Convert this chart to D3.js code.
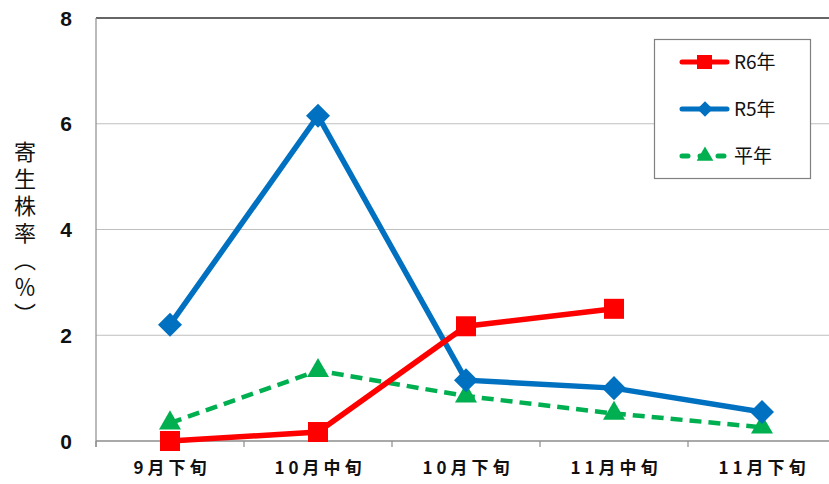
<!DOCTYPE html>
<html><head><meta charset="utf-8">
<script src="https://cdn.jsdelivr.net/npm/d3@7"></script>
<style>html,body{margin:0;padding:0;background:#fff;overflow:hidden}</style>
</head><body>
<svg id="c" width="829" height="484"></svg>
<script>
const categories = ["9月下旬","10月中旬","10月下旬","11月中旬","11月下旬"];
const r6 = [0, 0.17, 2.17, 2.5, null];
const r5 = [2.2, 6.15, 1.15, 1.0, 0.55];
const heinen = [0.34, 1.33, 0.85, 0.52, 0.26];
const yTicks = [0, 2, 4, 6, 8];
const seriesNames = ["R6年","R5年","平年"];
const yTitle = "寄生株率（％）";

const svg = d3.select("#c");
const L = 96, R = 836, T = 18, B = 441;
const x = d3.scaleBand().domain(categories).range([L, R]);
const y = d3.scaleLinear().domain([0, 8]).range([B, T]);
const cx = d => x(d) + x.bandwidth()/2;

// gridlines
svg.append("g").selectAll("line").data(yTicks.filter(t => t > 0 && t < 8)).join("line")
  .attr("x1", L).attr("x2", R).attr("y1", d => y(d)).attr("y2", d => y(d))
  .attr("stroke", "#bfbfbf").attr("stroke-width", 1.2);
// top border
svg.append("line").attr("x1", L).attr("x2", R).attr("y1", y(8)).attr("y2", y(8))
  .attr("stroke", "#333").attr("stroke-width", 1.5);
// left axis
svg.append("line").attr("x1", L).attr("x2", L).attr("y1", T).attr("y2", B + 6)
  .attr("stroke", "#8c8c8c").attr("stroke-width", 1.2);
// bottom axis
svg.append("line").attr("x1", L).attr("x2", R).attr("y1", B).attr("y2", B)
  .attr("stroke", "#8c8c8c").attr("stroke-width", 1.5);
const bounds = categories.map(c => x(c)).concat([R]);
svg.append("g").selectAll("line").data(bounds).join("line")
  .attr("x1", d => d).attr("x2", d => d).attr("y1", B).attr("y2", B + 6)
  .attr("stroke", "#8c8c8c").attr("stroke-width", 1.2);

// y tick labels
svg.append("g").selectAll("text").data(yTicks).join("text")
  .attr("x", 72).attr("y", d => y(d)).attr("dy", "0.36em").attr("text-anchor", "end")
  .attr("font-family", "Liberation Sans, Arial, sans-serif").attr("font-weight", "bold")
  .attr("font-size", 21).attr("fill", "#111").text(d => d);
// x labels
svg.append("g").selectAll("text").data(categories).join("text")
  .attr("x", d => cx(d) + 2).attr("y", 474).attr("text-anchor", "middle")
  .attr("font-family", "Noto Sans CJK JP, sans-serif").attr("font-weight", "bold")
  .attr("font-size", 17).attr("letter-spacing", 4).attr("fill", "#111").text(d => d);
// y axis title (vertical)
svg.append("text").attr("x", 25).attr("y", 141)
  .style("writing-mode", "vertical-rl").style("text-orientation", "mixed")
  .attr("font-family", "Noto Sans CJK JP, sans-serif").attr("font-size", 22)
  .attr("letter-spacing", 5).attr("fill", "#111").text(yTitle);

const red = "#ff0000", blue = "#0070c0", green = "#00b050";
const lineGen = d3.line().defined(d => d.v != null).x(d => cx(d.c)).y(d => y(d.v));
const toPts = arr => arr.map((v, i) => ({c: categories[i], v}));

// 平年 (drawn first)
svg.append("path").datum(toPts(heinen)).attr("d", lineGen).attr("fill", "none")
  .attr("stroke", green).attr("stroke-width", 4.5).attr("stroke-dasharray", "12,7");
// R5
svg.append("path").datum(toPts(r5)).attr("d", lineGen).attr("fill", "none")
  .attr("stroke", blue).attr("stroke-width", 5.5);
// R6
svg.append("path").datum(toPts(r6)).attr("d", lineGen).attr("fill", "none")
  .attr("stroke", red).attr("stroke-width", 5.5);

const tri = d3.symbol().type(d3.symbolTriangle).size(210);
svg.append("g").selectAll("path").data(toPts(heinen)).join("path")
  .attr("d", tri).attr("transform", d => `translate(${cx(d.c)},${y(d.v)})`).attr("fill", green);
svg.append("g").selectAll("rect").data(toPts(r5)).join("rect")
  .attr("x", -8.5).attr("y", -8.5).attr("width", 17).attr("height", 17)
  .attr("transform", d => `translate(${cx(d.c)},${y(d.v)}) rotate(45)`).attr("fill", blue);
svg.append("g").selectAll("rect").data(toPts(r6).filter(d => d.v != null)).join("rect")
  .attr("x", d => cx(d.c) - 10).attr("y", d => y(d.v) - 10).attr("width", 20).attr("height", 20)
  .attr("fill", red);

// legend
const lg = svg.append("g");
lg.append("rect").attr("x", 654.5).attr("y", 39.5).attr("width", 156).attr("height", 139)
  .attr("fill", "#fff").attr("stroke", "#808080").attr("stroke-width", 1.2);
const legY = [62, 109, 156];
const legColors = [red, blue, green];
seriesNames.forEach((n, i) => {
  const yy = legY[i];
  lg.append("line").attr("x1", 682).attr("x2", 727).attr("y1", yy).attr("y2", yy)
    .attr("stroke", legColors[i]).attr("stroke-width", 5).attr("stroke-linecap", "round")
    .attr("stroke-dasharray", i === 2 ? "6,12" : null);
  if (i === 0) lg.append("rect").attr("x", 697).attr("y", yy - 7).attr("width", 15).attr("height", 14).attr("fill", red);
  if (i === 1) lg.append("rect").attr("x", -5.5).attr("y", -5.5).attr("width", 11).attr("height", 11).attr("transform", `translate(705,${yy}) rotate(45)`).attr("fill", blue);
  if (i === 2) lg.append("path").attr("d", d3.symbol().type(d3.symbolTriangle).size(120)).attr("transform", `translate(705,${yy})`).attr("fill", green);
  lg.append("text").attr("x", 734).attr("y", yy).attr("dy", "0.36em")
    .attr("font-family", "Noto Sans CJK JP, sans-serif").attr("font-size", 19).attr("fill", "#111").text(n);
});
</script>
</body></html>
